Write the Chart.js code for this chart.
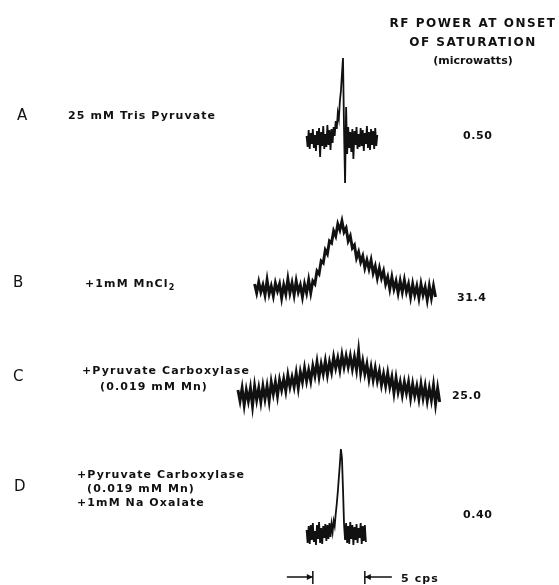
<!DOCTYPE html>
<html>
<head>
<meta charset="utf-8">
<script src="https://cdn.jsdelivr.net/npm/chart.js@4.4.1/dist/chart.umd.min.js"></script>
<style>
  html, body { margin: 0; padding: 0; background: #fff; }
  #wrap { position: relative; width: 559px; height: 585px; overflow: hidden; }
  #wrap canvas { position: absolute; left: 0; top: 0; }
  .t { position: absolute; font-family: "DejaVu Sans", sans-serif; font-weight: bold; font-size: 11px;
       line-height: 13px; color: #111; white-space: nowrap; letter-spacing: 1.1px; }
  .letter { font-weight: normal; font-size: 15px; line-height: 16px; letter-spacing: 0; }
  .head { font-size: 12px; letter-spacing: 1.5px; text-align: center; width: 200px; }
  .head.small { font-size: 11px; letter-spacing: 0; }
  .val { letter-spacing: 0.6px; }
  sub { font-size: 8px; line-height: 0; }
</style>
</head>
<body>
<div id="wrap">
  <canvas id="spectra" width="559" height="585"></canvas>
</div>
<script>
// sample names and saturation power (microwatts)
const sampleLetters = ['A', 'B', 'C', 'D'];
const sampleLabels = [
  ['25 mM  Tris Pyruvate'],
  ['+1mM MnCl<sub>2</sub>'],
  ['+Pyruvate Carboxylase', '(0.019 mM Mn)'],
  ['+Pyruvate Carboxylase', '(0.019 mM Mn)', '+1mM Na Oxalate']
];
const powerValues = ['0.50', '31.4', '25.0', '0.40'];
const headerLines = ['RF POWER AT ONSET', 'OF SATURATION', '(microwatts)'];

// traces: x in cps from line centre, y relative amplitude (arbitrary units)
const traceStart = [-3.4, -8.4, -10.0, -3.4];
const traceStep = [0.1, 0.2, 0.2, 0.1];
const traceOffset = [44.6, 29.6, 18.9, 5.1];

const traceA = [
  0.3, -0.8, 0.9, -1.0, 0.6, -0.5, 1.0, -0.9, 0.4, -1.2,
  0.8, -0.6, 1.1, -1.8, 0.7, -0.7, 1.3, -1.0, 0.5, -0.8,
  1.4, -0.6, 0.9, -1.1, 1.0, -0.4, 1.2, 0.3, 1.8, 1.0,
  2.6, 2.0, 3.8, 4.8, 6.5, 8.1, 1.0, -4.4, 3.2, -1.5,
  1.2, -0.9, 0.7, -1.3, 1.0, -2.0, 0.8, -0.6, 1.2, -1.0,
  0.5, -0.8, 1.1, -0.7, 0.9, -1.2, 0.6, -0.5, 1.3, -0.9,
  0.7, -1.1, 1.0, -0.6, 0.8, -1.0, 1.1, -0.7, 0.4
];
const traceB = [
  0.5, -0.4, 0.7, -0.3, 0.4, -0.6, 0.9, -0.5, 0.3, -0.7,
  0.6, -0.2, 0.5, -0.9, 0.4, -0.5, 1.0, -0.4, 0.6, -0.6,
  0.8, -0.3, 0.4, -0.8, 0.5, -0.4, 0.9, -0.4, 0.8, 0.5,
  1.8, 1.5, 2.8, 2.6, 3.9, 3.5, 4.8, 4.6, 5.8, 5.3,
  6.5, 5.9, 6.8, 5.7, 6.1, 4.8, 5.3, 4.1, 4.4, 3.1,
  3.7, 2.7, 3.3, 2.1, 2.9, 2.0, 2.9, 1.6, 2.3, 1.1,
  2.1, 1.1, 1.8, 0.5, 1.2, 0.0, 1.2, 0.0, 0.8, -0.4,
  0.8, -0.3, 0.9, -0.3, 0.5, -0.8, 0.5, -0.6, 0.3, -0.9,
  0.5, -0.6, 0.2, -1.1, 0.3, -0.9, 0.3, -0.8
];
const traceC = [
  0.6, -0.5, 0.8, -0.9, 0.6, -0.5, 0.8, -1.0, 1.0, -0.4,
  0.8, -0.6, 1.0, -0.3, 1.0, -0.5, 1.4, 0.2, 1.4, 0.0,
  1.6, 0.6, 1.7, 0.5, 2.1, 0.9, 1.9, 0.9, 2.3, 0.8,
  2.4, 1.4, 2.8, 1.5, 2.6, 1.5, 3.0, 2.0, 3.4, 1.9,
  3.2, 2.2, 3.5, 2.1, 3.4, 2.4, 3.9, 2.8, 3.8, 2.6,
  4.1, 2.9, 4.0, 2.9, 4.0, 2.7, 3.9, 2.6, 4.5, 2.3,
  3.5, 2.2, 3.2, 1.7, 2.9, 1.6, 2.8, 1.5, 2.5, 1.1,
  2.2, 1.0, 2.3, 0.9, 1.9, 0.3, 1.8, 0.4, 1.4, 0.1,
  1.4, 0.3, 1.4, -0.2, 1.2, 0.0, 1.0, -0.3, 1.2, -0.2,
  1.0, -0.5, 0.8, -0.4, 1.1, -0.8, 0.8, -0.6
];
const traceD = [
  0.4, -0.9, 0.8, -1.0, 0.9, -0.6, 1.1, -0.8, 0.3, -1.1,
  0.9, -0.5, 1.2, -0.9, 0.6, -1.0, 0.8, -0.4, 1.0, -0.7,
  0.9, -0.5, 1.1, -0.3, 1.0, 0.2, 1.3, 0.8, 2.0, 3.0,
  4.2, 5.6, 7.0, 8.5, 7.6, 4.5, 1.0, -0.6, 1.1, -0.9,
  0.8, -1.0, 1.2, -0.5, 0.9, -1.1, 0.7, -0.6, 1.0, -0.9,
  0.6, -0.4, 1.1, -1.0, 0.8, -0.7, 0.9, -0.8
];
const traces = [traceA, traceB, traceC, traceD];

// 5 cps scale bar
const scaleBarCps = [-2.8, 2.2];
const scaleBarY = 0.8;

const lineWidths = [1.8, 2.9, 2.9, 1.8];
const datasets = traces.map((vals, k) => ({
  label: sampleLetters[k],
  data: vals.map((v, i) => ({ x: traceStart[k] + i * traceStep[k], y: v + traceOffset[k] })),
  borderColor: '#111',
  borderWidth: lineWidths[k],
  borderJoinStyle: 'miter',
  pointRadius: 0,
  tension: 0,
  fill: false
}));

const scaleBar = {
  id: 'scaleBar',
  afterDraw(chart) {
    const c = chart.ctx, xs = chart.scales.x, ys = chart.scales.y;
    const y = ys.getPixelForValue(scaleBarY);
    const x1 = xs.getPixelForValue(scaleBarCps[0]);
    const x2 = xs.getPixelForValue(scaleBarCps[1]);
    const l0 = xs.getPixelForValue(scaleBarCps[0] - 2.5);
    const r0 = xs.getPixelForValue(scaleBarCps[1] + 2.6);
    c.save();
    c.strokeStyle = '#111';
    c.fillStyle = '#111';
    c.lineWidth = 1.5;
    c.beginPath();
    c.moveTo(l0, y); c.lineTo(x1, y);
    c.moveTo(x2, y); c.lineTo(r0, y);
    c.moveTo(x1, y - 6); c.lineTo(x1, y + 7);
    c.moveTo(x2, y - 6); c.lineTo(x2, y + 7);
    c.stroke();
    c.beginPath();
    c.moveTo(x1, y); c.lineTo(x1 - 6, y - 3); c.lineTo(x1 - 6, y + 3); c.closePath();
    c.moveTo(x2, y); c.lineTo(x2 + 6, y - 3); c.lineTo(x2 + 6, y + 3); c.closePath();
    c.fill();
    c.restore();
  }
};

new Chart(document.getElementById('spectra'), {
  type: 'line',
  data: { datasets: datasets },
  options: {
    responsive: false,
    animation: false,
    layout: { padding: 0 },
    scales: {
      x: { type: 'linear', min: -32.88, max: 20.87, display: false },
      y: { min: 0, max: 58.5, display: false }
    },
    plugins: { legend: { display: false }, tooltip: { enabled: false } }
  },
  plugins: [scaleBar]
});

// text
const wrap = document.getElementById('wrap');
function addText(html, left, cy, cls) {
  const d = document.createElement('div');
  d.className = 't' + (cls ? ' ' + cls : '');
  d.innerHTML = html;
  d.style.left = left + 'px';
  wrap.appendChild(d);
  d.style.top = (cy - d.offsetHeight / 2) + 'px';
  return d;
}
const headY = [23, 42, 60];
headerLines.forEach((s, i) => addText(s, 373, headY[i], i === 2 ? 'head small' : 'head'));

const letterX = [17, 13, 13, 14];
const letterY = [115, 282, 376, 486];
const labelX = [[68], [85], [82, 100], [77, 87, 77]];
const labelY = [[115], [283], [370, 386], [474, 488, 502]];
const valueX = [463, 457, 452, 463];
const valueY = [135, 297, 395, 514];
sampleLetters.forEach((s, k) => {
  addText(s, letterX[k], letterY[k], 'letter');
  sampleLabels[k].forEach((line, j) => addText(line, labelX[k][j], labelY[k][j]));
  addText(powerValues[k], valueX[k], valueY[k], 'val');
});
addText('5 cps', 401, 578);
</script>
</body>
</html>
